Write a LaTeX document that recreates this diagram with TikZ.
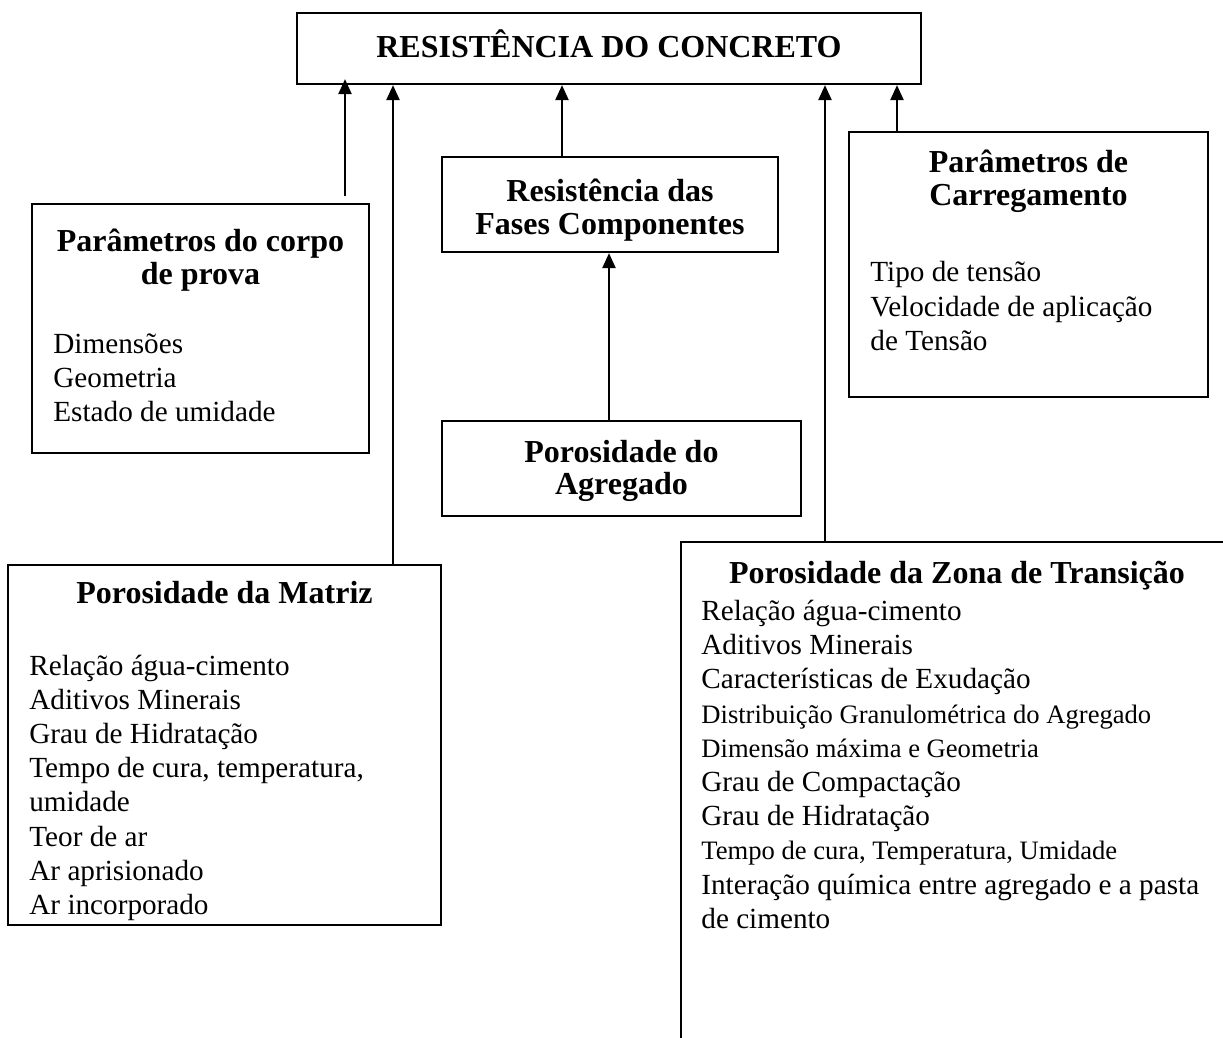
\documentclass[tikz,border=0pt]{standalone}
\usepackage{fontspec}
\setmainfont{Liberation Serif}
\usetikzlibrary{arrows.meta}
\newcommand{\pequeno}{\fontsize{13.3}{17.1}\selectfont}

\begin{document}
\begin{tikzpicture}[x=0.5pt,y=-0.5pt,>={Triangle[length=7.5pt,width=6.5pt]},
  caixa/.style={draw,line width=1.1pt,inner sep=0pt},
  titulo/.style={inner sep=0pt,anchor=base,align=flush center,font=\fontsize{16}{16.5}\selectfont\bfseries},
  lista/.style={inner sep=0pt,anchor=base west,align=flush left,font=\fontsize{14.6}{17.1}\selectfont},
  seta/.style={->,line width=1.1pt}]
  \useasboundingbox (0,0) rectangle (1223,1038);
  \clip (0,0) rectangle (1223,1038);
  % caixas
  \node[caixa,minimum width=312pt,minimum height=35.5pt](res) at (609,48.5){};
  \node[caixa,minimum width=168pt,minimum height=47.5pt](fases) at (610,204.5){};
  \node[caixa,minimum width=179.5pt,minimum height=47.5pt](agreg) at (621.5,468.5){};
  \node[caixa,minimum width=168.5pt,minimum height=124.5pt](corpo) at (200.5,328.5){};
  \node[caixa,minimum width=179.5pt,minimum height=132.5pt](carreg) at (1028.5,264.5){};
  \node[caixa,minimum width=216.5pt,minimum height=180pt](matriz) at (224.5,745){};
  \node[caixa,minimum width=279.5pt,minimum height=259pt](zona) at (960.5,801){};
  % textos
  \node[titulo](tres) at (609,58){RESISTÊNCIA DO CONCRETO};
  \node[titulo,text width=165pt](tfases) at (610,202){Resistência das\\Fases Componentes};
  \node[titulo,text width=175pt](tagreg) at (621.5,462){Porosidade do\\Agregado};
  \node[titulo,text width=165pt](tcorpo) at (200.5,252){Parâmetros do corpo\\de prova};
  \node[titulo,text width=175pt](tcarreg) at (1028.5,173){Parâmetros de\\Carregamento};
  \node[titulo](tmatriz) at (224.5,603){Porosidade da Matriz};
  \node[titulo](tzona) at (957,583.5){Porosidade da Zona de Transição};
  \node[lista,text width=150pt](lcorpo) at (53,353){Dimensões\\Geometria\\Estado de umidade};
  \node[lista,text width=160pt](lcarreg) at (870,282){Tipo de tensão\\Velocidade de aplicação\\de Tensão};
  \node[lista,text width=205pt](lmatriz) at (29,675){Relação água-cimento\\Aditivos Minerais\\
    Grau de Hidratação\\Tempo de cura, temperatura,\\umidade\\Teor de ar\\Ar aprisionado\\Ar incorporado};
  \node[lista,text width=258pt](lzona) at (701,620.5){Relação água-cimento\\Aditivos Minerais\\
    Características de Exudação\\{\pequeno Distribuição Granulométrica do Agregado}\\
    {\pequeno Dimensão máxima e Geometria}\\Grau de Compactação\\Grau de Hidratação\\
    {\pequeno Tempo de cura, Temperatura, Umidade}\\Interação química entre agregado e a pasta\\de cimento};
  % setas
  \draw[seta]([yshift=3.5pt]corpo.north -| 345,0)--([yshift=3pt]res.south -| 345,0);
  \draw[seta](matriz.north -| 393,0)--(res.south -| 393,0);
  \draw[seta](fases.north -| 562,0)--(res.south -| 562,0);
  \draw[seta](zona.north -| 825,0)--(res.south -| 825,0);
  \draw[seta](carreg.north -| 897,0)--(res.south -| 897,0);
  \draw[seta](agreg.north -| 609,0)--(fases.south -| 609,0);
\end{tikzpicture}
\end{document}
